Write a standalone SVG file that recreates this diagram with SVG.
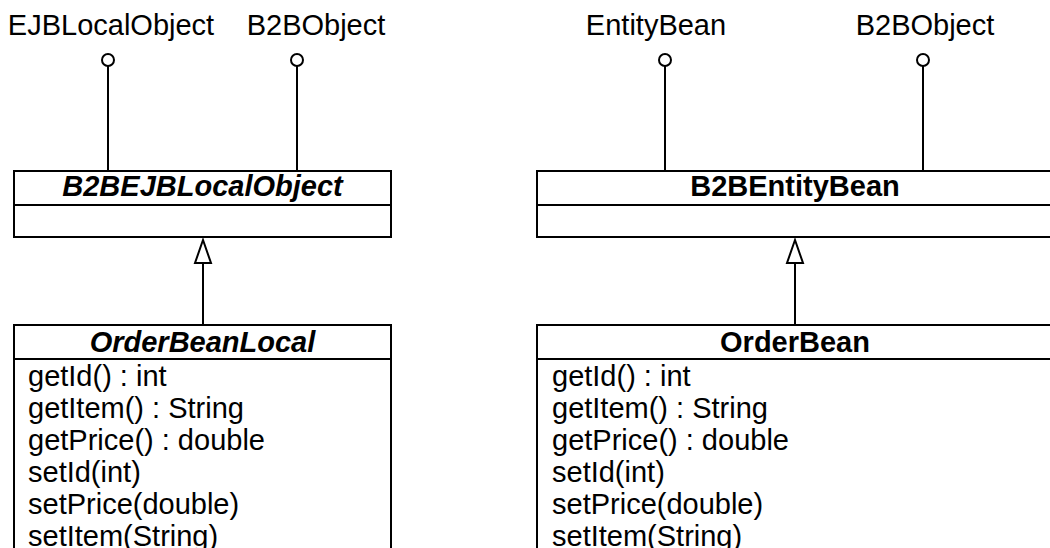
<svg xmlns="http://www.w3.org/2000/svg" width="1050" height="548" viewBox="0 0 1050 548">
  <defs>
    <style>
      .box { fill: #ffffff; stroke: #000000; stroke-width: 2; }
      .sep { stroke: #000000; stroke-width: 2; }
      .wire { stroke: #000000; stroke-width: 2; fill: none; }
      .ball { fill: #ffffff; stroke: #000000; stroke-width: 2; }
      .head { fill: #ffffff; stroke: #000000; stroke-width: 2; }
      text { font-family: "Liberation Sans", Arial, sans-serif; font-size: 29px; fill: #000000; }
      .title { font-weight: bold; text-anchor: middle; }
      .abstract { font-style: italic; }
      .iface { text-anchor: middle; }
    </style>
  </defs>

  <!-- connectors: interface lollipops and generalizations -->
  <g id="connectors">
    <line class="wire" x1="108" y1="66" x2="108" y2="171"/>
    <circle class="ball" cx="108" cy="60" r="6"/>
    <line class="wire" x1="297" y1="66" x2="297" y2="171"/>
    <circle class="ball" cx="297" cy="60" r="6"/>
    <line class="wire" x1="665" y1="66" x2="665" y2="171"/>
    <circle class="ball" cx="665" cy="60" r="6"/>
    <line class="wire" x1="923" y1="66" x2="923" y2="171"/>
    <circle class="ball" cx="923" cy="60" r="6"/>

    <line class="wire" x1="203" y1="263" x2="203" y2="325"/>
    <polygon class="head" points="203,240 195,263 211,263"/>
    <line class="wire" x1="795" y1="263" x2="795" y2="325"/>
    <polygon class="head" points="795,240 787,263 803,263"/>
  </g>

  <!-- interface labels -->
  <g id="iface-EJBLocalObject"><text class="iface" x="111" y="35">EJBLocalObject</text></g>
  <g id="iface-B2BObject-left"><text class="iface" x="316" y="35">B2BObject</text></g>
  <g id="iface-EntityBean"><text class="iface" x="656" y="35">EntityBean</text></g>
  <g id="iface-B2BObject-right"><text class="iface" x="925" y="35">B2BObject</text></g>

  <g id="B2BEJBLocalObject">
    <rect class="box" x="14" y="171" width="377" height="66"/>
    <line class="sep" x1="14" y1="205" x2="391" y2="205"/>
    <text class="title abstract" x="202.5" y="196">B2BEJBLocalObject</text>
  </g>

  <g id="B2BEntityBean">
    <rect class="box" x="537" y="171" width="516" height="66"/>
    <line class="sep" x1="537" y1="205" x2="1053" y2="205"/>
    <text class="title" x="795" y="196">B2BEntityBean</text>
  </g>

  <g id="OrderBeanLocal">
    <rect class="box" x="14" y="325" width="377" height="260"/>
    <line class="sep" x1="14" y1="359" x2="391" y2="359"/>
    <text class="title abstract" x="202.5" y="352">OrderBeanLocal</text>
    <text x="28" y="386">getId() : int</text>
    <text x="28" y="418">getItem() : String</text>
    <text x="28" y="450">getPrice() : double</text>
    <text x="28" y="482">setId(int)</text>
    <text x="28" y="514">setPrice(double)</text>
    <text x="28" y="546">setItem(String)</text>
  </g>

  <g id="OrderBean">
    <rect class="box" x="537" y="325" width="516" height="260"/>
    <line class="sep" x1="537" y1="359" x2="1053" y2="359"/>
    <text class="title" x="795" y="352">OrderBean</text>
    <text x="552" y="386">getId() : int</text>
    <text x="552" y="418">getItem() : String</text>
    <text x="552" y="450">getPrice() : double</text>
    <text x="552" y="482">setId(int)</text>
    <text x="552" y="514">setPrice(double)</text>
    <text x="552" y="546">setItem(String)</text>
  </g>
</svg>
